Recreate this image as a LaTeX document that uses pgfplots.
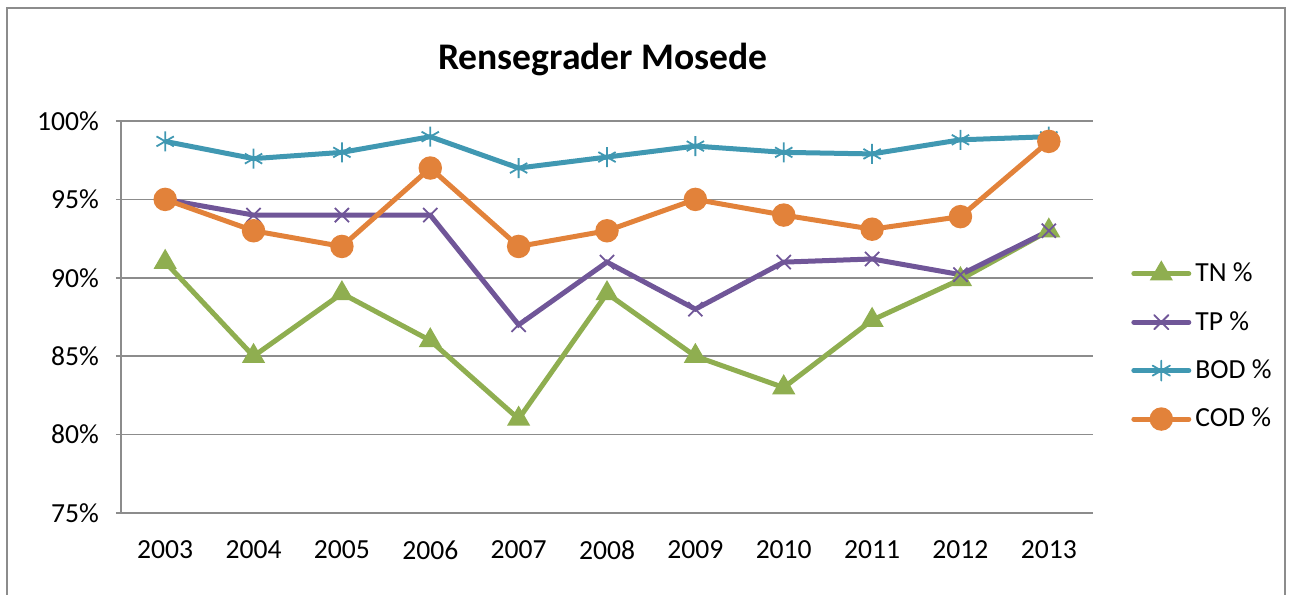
\documentclass[border=0pt]{standalone}
\usepackage{fontspec}
\setmainfont{Carlito}
\usepackage{pgfplots}
\pgfplotsset{compat=1.18}
\definecolor{cTN}{RGB}{143,174,80}
\definecolor{cTP}{RGB}{112,86,152}
\definecolor{cBOD}{RGB}{64,152,178}
\definecolor{cCOD}{RGB}{226,130,58}
\definecolor{cgrid}{RGB}{140,140,140}
\begin{document}
\begin{tikzpicture}
\clip (0,0) rectangle (646pt,297.5pt);
\draw[cgrid, line width=1pt] (3.5pt,-10pt) rectangle (642.5pt,293.5pt);
\node[font=\fontsize{18.8}{22}\selectfont\bfseries] at (301.5pt,268pt) {Rensegrader Mosede};
\begin{axis}[
  at={(60.5pt,41pt)}, anchor=south west,
  scale only axis, width=486pt, height=196pt,
  xmin=-0.5, xmax=10.5, ymin=75, ymax=100,
  axis x line=bottom, axis y line=left,
  xtick={0,...,10},
  xticklabels={2003,2004,2005,2006,2007,2008,2009,2010,2011,2012,2013},
  ytick={75,80,85,90,95,100},
  yticklabel={\pgfmathprintnumber{\tick}\%},
  /pgf/number format/assume math mode=true,
  tick label style={font=\fontsize{13.8}{16}\selectfont},
  yticklabel style={xshift=-5pt},
  xticklabel style={yshift=-8pt},
  axis line style={cgrid, line width=0.8pt, -},
  ymajorgrids, grid style={cgrid, line width=0.8pt},
  major tick length=2.5pt,
  xtick style={draw=none},
  ytick style={cgrid, line width=0.8pt},
  tick align=outside,
  legend style={draw=none, fill=none, at={(1.039,0.425)}, anchor=west,
    font=\fontsize{13.8}{16}\selectfont, row sep=9.3pt, inner sep=0pt},
  legend cell align=left,
  legend image code/.code={
    \draw[#1, line cap=round, mark repeat=2, mark phase=2] plot coordinates {(0pt,0pt) (13.75pt,0pt) (27.5pt,0pt)};},
]
\addplot[cTN, line width=2.5pt, mark=triangle*, mark size=4.2pt, mark options={solid}] coordinates {
(0,91) (1,85) (2,89) (3,86) (4,81) (5,89) (6,85) (7,83) (8,87.3) (9,89.9) (10,93)};
\addlegendentry{TN \%}
\addplot[cTP, line width=2.5pt, mark=x, mark size=5pt, mark options={line width=0.9pt}] coordinates {
(0,95) (1,94) (2,94) (3,94) (4,87) (5,91) (6,88) (7,91) (8,91.2) (9,90.2) (10,93)};
\addlegendentry{TP \%}
\addplot[cBOD, line width=2.5pt, mark=asterisk, mark size=5pt, mark options={line width=0.9pt}] coordinates {
(0,98.7) (1,97.6) (2,98) (3,99) (4,97) (5,97.7) (6,98.4) (7,98) (8,97.9) (9,98.8) (10,99)};
\addlegendentry{BOD \%}
\addplot[cCOD, line width=2.5pt, mark=*, mark size=4.6pt] coordinates {
(0,95) (1,93) (2,92) (3,97) (4,92) (5,93) (6,95) (7,94) (8,93.1) (9,93.9) (10,98.7)};
\addlegendentry{COD \%}
\end{axis}
\end{tikzpicture}
\end{document}
